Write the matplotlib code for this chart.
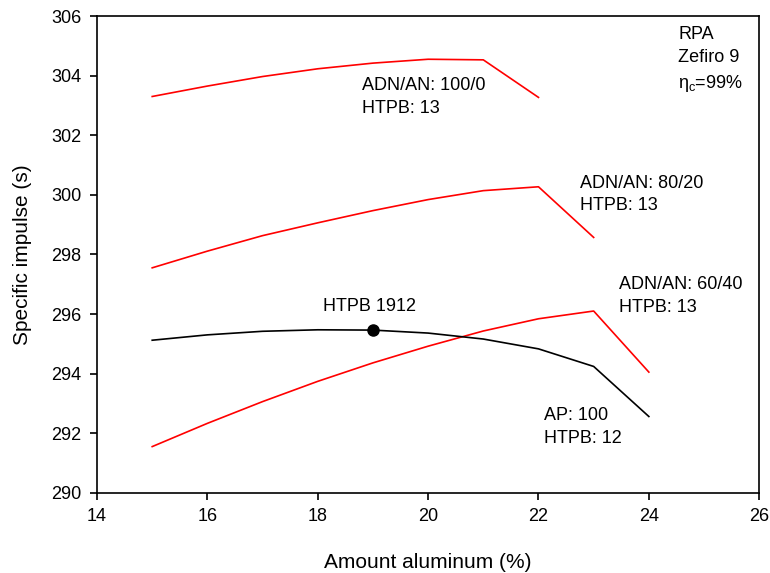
import matplotlib
matplotlib.use("Agg")
import matplotlib.pyplot as plt

plt.rcParams['font.family'] = ['Liberation Sans', 'DejaVu Sans']

x_100 = [15, 16, 17, 18, 19, 20, 21, 22]
isp_100 = [303.30, 303.65, 303.97, 304.23, 304.42, 304.55, 304.53, 303.27]

x_80 = [15, 16, 17, 18, 19, 20, 21, 22, 23]
isp_80 = [297.55, 298.11, 298.63, 299.06, 299.47, 299.84, 300.14, 300.27, 298.57]

x_60 = [15, 16, 17, 18, 19, 20, 21, 22, 23, 24]
isp_60 = [291.55, 292.33, 293.06, 293.74, 294.36, 294.92, 295.43, 295.84, 296.10, 294.05]

x_ap = [15, 16, 17, 18, 19, 20, 21, 22, 23, 24]
isp_ap = [295.12, 295.30, 295.42, 295.47, 295.46, 295.36, 295.16, 294.83, 294.24, 292.56]

ref_x = [19]
ref_y = [295.47]

fig = plt.figure(figsize=(7.70, 5.73), dpi=100)
ax = fig.add_axes([0.126, 0.140, 0.860, 0.832])

ax.plot(x_100, isp_100, color='red', lw=1.2)
ax.plot(x_80, isp_80, color='red', lw=1.2)
ax.plot(x_60, isp_60, color='red', lw=1.2)
ax.plot(x_ap, isp_ap, color='black', lw=1.2)
ax.plot(ref_x, ref_y, 'o', color='black', ms=8)

ax.set_xlim(14, 26)
ax.set_ylim(290, 306)
ax.set_xticks(range(14, 27, 2))
ax.set_yticks(range(290, 307, 2))
for s in ax.spines.values():
    s.set_linewidth(1.2)
ax.tick_params(direction='out', labelsize=13, length=5, width=1.2, pad=6)
ax.set_xlabel('Amount aluminum (%)', fontsize=15, labelpad=20)
ax.set_ylabel('Specific impulse (s)', fontsize=15, labelpad=14)

fs = 13
ls = 1.45
ax.text(18.8, 303.95, 'ADN/AN: 100/0\nHTPB: 13', fontsize=fs, va='top', ha='left', linespacing=ls)
ax.text(22.75, 300.68, 'ADN/AN: 80/20\nHTPB: 13', fontsize=fs, va='top', ha='left', linespacing=ls)
ax.text(23.46, 297.26, 'ADN/AN: 60/40\nHTPB: 13', fontsize=fs, va='top', ha='left', linespacing=ls)
ax.text(18.1, 296.55, 'HTPB 1912', fontsize=fs, va='top', ha='left')
ax.text(22.1, 292.87, 'AP: 100\nHTPB: 12', fontsize=fs, va='top', ha='left', linespacing=ls)
ax.text(24.53, 305.65, 'RPA\nZefiro 9\n$\\mathregular{\\eta_c}$=99%', fontsize=fs, va='top', ha='left', linespacing=1.45)

fig.savefig('out.png', dpi=100)
